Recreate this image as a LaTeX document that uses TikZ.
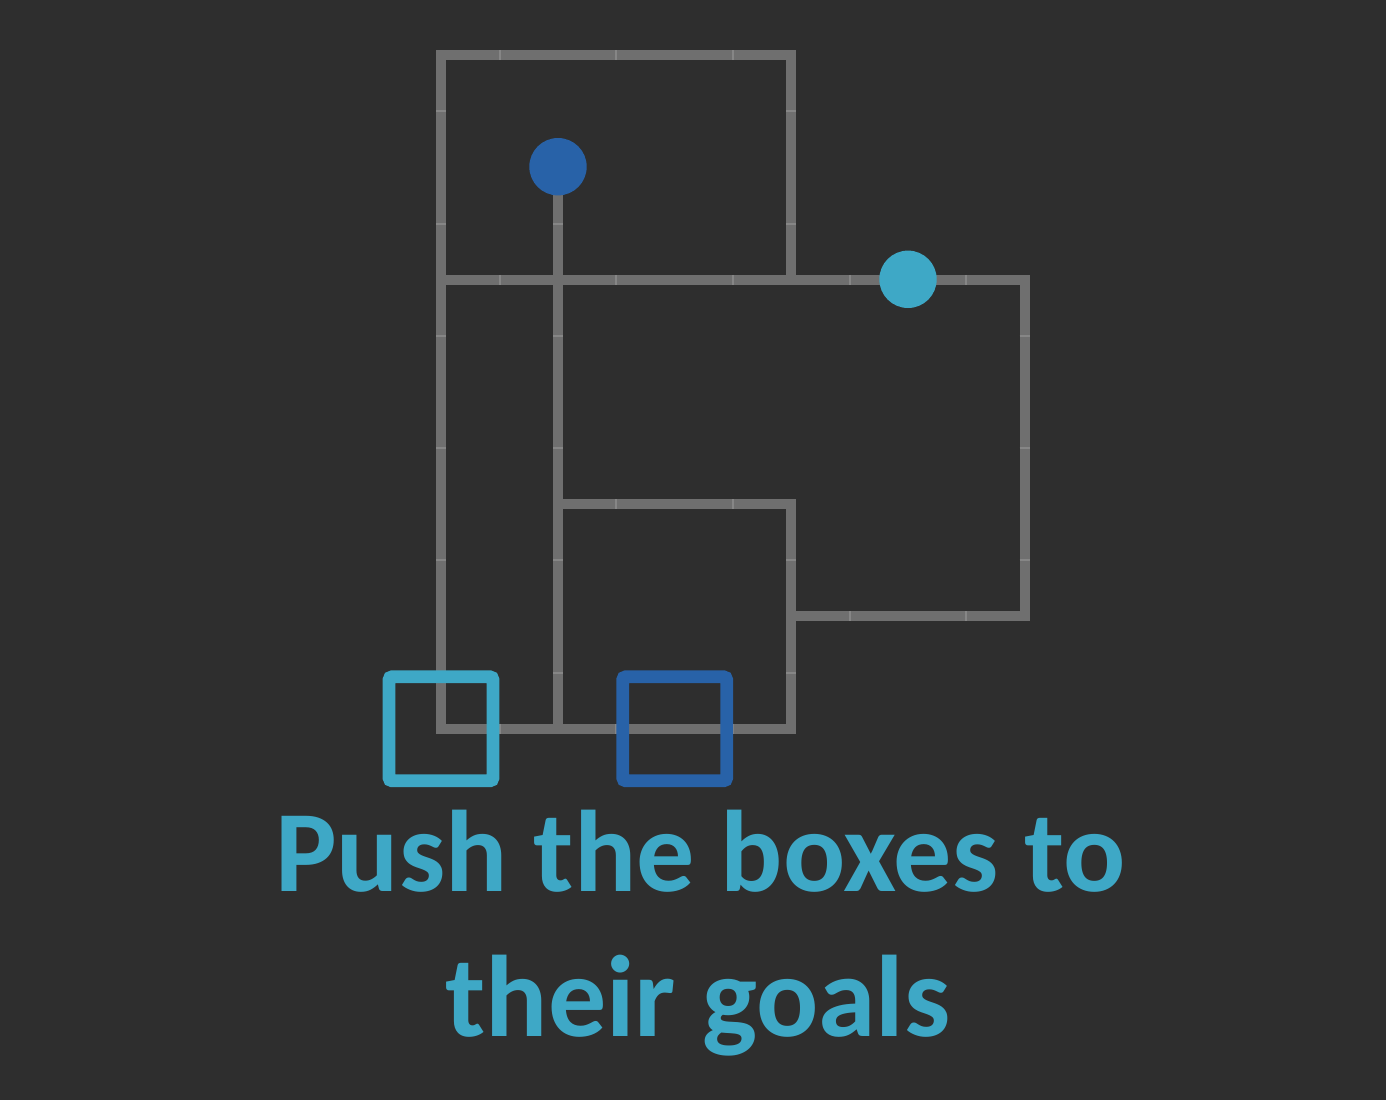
\documentclass[tikz,border=0pt]{standalone}
\usepackage{fontspec}
\setmainfont{Carlito}
\definecolor{bg}{HTML}{2E2E2E}
\definecolor{wall}{HTML}{6F6F6F}
\definecolor{tickc}{HTML}{868686}
\definecolor{darkblue}{HTML}{2862A8}
\definecolor{lightblue}{HTML}{3EA8C6}
\begin{document}
\begin{tikzpicture}[x=1pt,y=-1pt,
  wallline/.style={draw=wall,line width=10pt,line cap=rect,line join=miter},
  tickmark/.style={draw=tickc,line width=2pt},
  agent/.style={circle,inner sep=0pt,minimum size=57.4pt},
  goalbox/.style={draw,line width=12.7pt,rounded corners=3pt,inner sep=0pt,minimum size=104pt},
  caption/.style={text=lightblue,font=\fontsize{116}{144}\selectfont\bfseries,anchor=base,inner sep=0pt}]
\fill[bg] (0,0) rectangle (1386,1100);
\useasboundingbox (0,0) rectangle (1386,1100);
% grid coordinates
\def\xa{441.3}\def\xb{558}\def\xd{791.3}\def\xf{1024.7}
\def\ya{55.3}\def\yb{167.5}\def\yc{279.8}\def\ye{504.2}\def\yf{616.4}\def\yg{728.7}
% walls
\draw[wallline] (\xd,\yc) -- (\xd,\ya) -- (\xa,\ya) -- (\xa,\yg) -- (\xd,\yg) -- (\xd,\ye) -- (\xb,\ye);
\draw[wallline] (\xa,\yc) -- (\xf,\yc) -- (\xf,\yf) -- (\xd,\yf);
\draw[wallline] (\xb,\yb) -- (\xb,\yg);
% ticks on vertical walls
\foreach \y in {111.4,223.6,335.8,448,560.2,672.5}
  \draw[tickmark] (\xa-5,\y) -- (\xa+5,\y);
\foreach \y in {223.6,335.8,448,560.2,672.5}
  \draw[tickmark] (\xb-5,\y) -- (\xb+5,\y);
\foreach \y in {111.4,223.6,560.2,672.5}
  \draw[tickmark] (\xd-5,\y) -- (\xd+5,\y);
\foreach \y in {335.8,448,560.2}
  \draw[tickmark] (\xf-5,\y) -- (\xf+5,\y);
% ticks on horizontal walls
\foreach \x in {499.6,616.3,733}
  \draw[tickmark] (\x,\ya-5) -- (\x,\ya+5);
\foreach \x in {499.6,616.3,733,849.7,966.4}
  \draw[tickmark] (\x,\yc-5) -- (\x,\yc+5);
\foreach \x in {616.3,733}
  \draw[tickmark] (\x,\ye-5) -- (\x,\ye+5);
\foreach \x in {849.7,966.4}
  \draw[tickmark] (\x,\yf-5) -- (\x,\yf+5);
\foreach \x in {499.6,616.3,733}
  \draw[tickmark] (\x,\yg-5) -- (\x,\yg+5);
% agents
\node[agent,fill=darkblue] (agentA) at (\xb,166.7) {};
\node[agent,fill=lightblue] (agentB) at (908,279.3) {};
% goals
\node[goalbox,draw=lightblue] (goalA) at (441,728.8) {};
\node[goalbox,draw=darkblue] (goalB) at (674.7,728.8) {};
% caption
\node[caption] (line1) at (700.5,891.7) {Push the boxes to};
\node[caption] (line2) at (698,1036) {their goals};
\end{tikzpicture}
\end{document}
